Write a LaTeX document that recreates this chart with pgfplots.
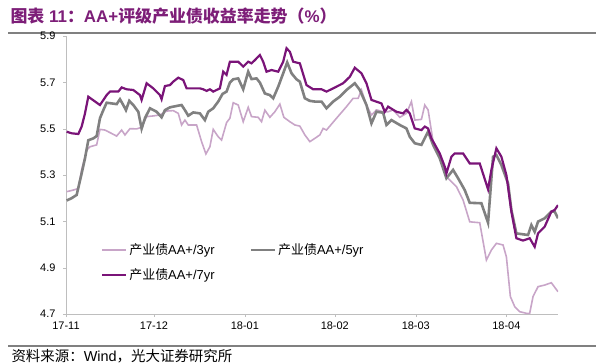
\documentclass[border=0pt]{standalone}
\usepackage{pgfplots}
\pgfplotsset{compat=1.18}
\usepackage{fontspec}
\setmainfont{Liberation Sans}
\newfontfamily\cjk{Noto Sans CJK SC}
\definecolor{titlec}{RGB}{125,30,120}
\definecolor{c3}{RGB}{200,165,200}
\definecolor{c5}{RGB}{128,128,128}
\definecolor{c7}{RGB}{122,20,120}
\definecolor{axc}{RGB}{190,190,190}
\begin{document}
\begin{tikzpicture}[x=1bp,y=1bp]
\path[use as bounding box] (0,0) rectangle (600,363);
\node[anchor=west,text=titlec,font=\fontsize{17}{19}\selectfont\bfseries] at (7,347) {{\cjk 图表} 11{\cjk ：}AA+{\cjk 评级产业债收益率走势（}\%{\cjk ）}};
\draw[gray,line width=1.2bp] (8,330) -- (596,330);
\draw[gray,line width=1.2bp] (8,17) -- (596,17);
\node[anchor=west,font=\fontsize{14.5}{16}\selectfont] at (8,7) {{\cjk 资料来源：}Wind{\cjk ，光大证券研究所}};
\begin{axis}[
  at={(66bp,49bp)}, anchor=south west,
  scale only axis, width=492bp, height=278bp,
  xmin=198, xmax=1675, ymin=4.7, ymax=5.9,
  axis lines=left, axis line style={axc,-}, 
  xtick={198,462,735,1005,1248,1520},
  xticklabels={17-11,17-12,18-01,18-02,18-03,18-04},
  ytick={4.7,4.9,5.1,5.3,5.5,5.7,5.9},
  yticklabel style={xshift=-4bp,/pgf/number format/.cd,fixed,fixed zerofill,precision=1},
  /pgf/number format/assume math mode=true,
  tick style={axc}, tick align=outside, major tick length=3bp,
  ticklabel style={font=\fontsize{11}{13}\selectfont},
  xticklabel style={yshift=-1bp},
  legend columns=2,
  legend style={draw=none,fill=none,at={(0.065,0.268)},anchor=north west,font=\fontsize{13}{15}\selectfont,row sep=9bp},
  legend cell align=left,
  /tikz/every even column/.append style={column sep=33bp},
  legend image code/.code={\draw[#1] (0bp,0bp) -- (24bp,0bp);},
]
\addplot[c3,line width=1.6bp,no marks] coordinates {
(200,5.228)(220,5.235)(235,5.242)(245,5.322)(260,5.408)(270,5.422)(290,5.43)(300,5.497)(315,5.494)(330,5.483)(350,5.468)(365,5.494)(375,5.473)(390,5.50)(410,5.499)(425,5.506)(440,5.552)(460,5.555)(480,5.559)(500,5.576)(520,5.578)(535,5.566)(545,5.516)(555,5.537)(565,5.516)(590,5.516)(605,5.444)(618,5.391)(630,5.422)(640,5.497)(655,5.465)(665,5.451)(680,5.526)(690,5.545)(700,5.612)(715,5.602)(730,5.53)(745,5.592)(755,5.552)(775,5.549)(785,5.53)(795,5.58)(810,5.549)(825,5.573)(840,5.606)(852,5.549)(870,5.53)(885,5.516)(900,5.511)
(915,5.473)(930,5.444)(945,5.458)(960,5.473)(970,5.501)(980,5.494)(1010,5.545)(1040,5.595)(1060,5.631)(1075,5.631)(1085,5.667)(1100,5.602)(1115,5.559)(1130,5.581)(1150,5.573)(1165,5.573)(1180,5.581)(1200,5.549)(1220,5.566)(1235,5.617)(1245,5.537)(1265,5.54)(1275,5.602)(1285,5.581)(1300,5.444)(1320,5.386)(1340,5.293)(1370,5.25)(1390,5.192)(1410,5.098)(1440,5.094)(1460,4.933)(1475,4.976)(1490,5.005)(1510,4.998)(1520,4.947)(1532,4.775)(1545,4.732)(1560,4.71)(1580,4.703)(1590,4.703)(1600,4.775)(1615,4.818)(1635,4.825)(1655,4.835)(1675,4.796)
};
\addlegendentry{{\cjk 产业债}AA+/3yr}
\addplot[c5,line width=2.6bp,no marks] coordinates {
(200,5.19)(215,5.20)(230,5.214)(245,5.307)(255,5.372)(265,5.45)(280,5.458)(290,5.468)(300,5.545)(310,5.58)(320,5.612)(335,5.609)(350,5.606)(360,5.627)(370,5.602)(378,5.58)(388,5.62)(400,5.602)(415,5.573)(425,5.50)(435,5.545)(450,5.588)(470,5.573)(485,5.549)(495,5.58)(510,5.592)(530,5.598)(545,5.602)(555,5.58)(565,5.556)(580,5.57)(600,5.566)(615,5.537)(625,5.573)(640,5.588)(655,5.617)(668,5.65)(680,5.66)(690,5.699)(700,5.713)(715,5.717)(730,5.67)(745,5.746)(755,5.714)(770,5.717)(780,5.699)(795,5.652)(810,5.645)(820,5.631)(835,5.681)(850,5.739)(862,5.786)(875,5.739)(890,5.713)(900,5.703)
(915,5.631)(930,5.62)(945,5.617)(965,5.617)(980,5.588)(1000,5.617)(1020,5.638)(1040,5.667)(1065,5.696)(1080,5.667)(1100,5.602)(1115,5.523)(1130,5.573)(1150,5.569)(1160,5.516)(1175,5.537)(1200,5.516)(1220,5.501)(1230,5.465)(1245,5.437)(1265,5.43)(1285,5.487)(1300,5.43)(1320,5.372)(1340,5.286)(1360,5.322)(1375,5.286)(1395,5.235)(1410,5.18)(1445,5.178)(1465,5.094)(1480,5.379)(1490,5.386)(1505,5.343)(1525,5.264)(1535,5.149)(1550,5.048)(1585,5.041)(1595,5.084)(1605,5.055)(1615,5.099)(1635,5.113)(1655,5.142)(1665,5.142)(1675,5.113)
};
\addlegendentry{{\cjk 产业债}AA+/5yr}
\addplot[c7,line width=2.2bp,no marks] coordinates {
(200,5.487)(215,5.48)(235,5.477)(245,5.509)(255,5.566)(265,5.638)(300,5.602)(320,5.645)(330,5.66)(355,5.66)(365,5.678)(380,5.67)(400,5.667)(420,5.645)(425,5.624)(440,5.696)(460,5.674)(480,5.645)(485,5.627)(495,5.684)(510,5.688)(520,5.703)(535,5.72)(550,5.71)(560,5.674)(600,5.674)(610,5.67)(620,5.663)(630,5.67)(640,5.66)(660,5.674)(670,5.746)(680,5.732)(690,5.789)(715,5.789)(730,5.768)(745,5.789)(755,5.782)(765,5.796)(780,5.818)(790,5.789)(800,5.746)(815,5.753)(835,5.746)(850,5.789)(860,5.847)(870,5.832)(880,5.789)(900,5.782)
(920,5.688)(940,5.67)(965,5.67)(980,5.66)(1000,5.674)(1030,5.696)(1050,5.724)(1065,5.763)(1085,5.739)(1100,5.696)(1115,5.624)(1145,5.609)(1155,5.573)(1165,5.595)(1190,5.573)(1210,5.566)(1220,5.581)(1230,5.566)(1245,5.501)(1265,5.494)(1275,5.509)(1285,5.501)(1295,5.458)(1320,5.393)(1335,5.336)(1340,5.307)(1355,5.379)(1365,5.393)(1390,5.393)(1410,5.35)(1440,5.35)(1465,5.238)(1475,5.322)(1490,5.415)(1505,5.379)(1520,5.30)(1535,5.142)(1550,5.027)(1570,5.017)(1590,5.027)(1605,4.99)(1615,5.048)(1635,5.077)(1655,5.142)(1665,5.149)(1675,5.17)
};
\addlegendentry{{\cjk 产业债}AA+/7yr}
\end{axis}
\end{tikzpicture}
\end{document}
